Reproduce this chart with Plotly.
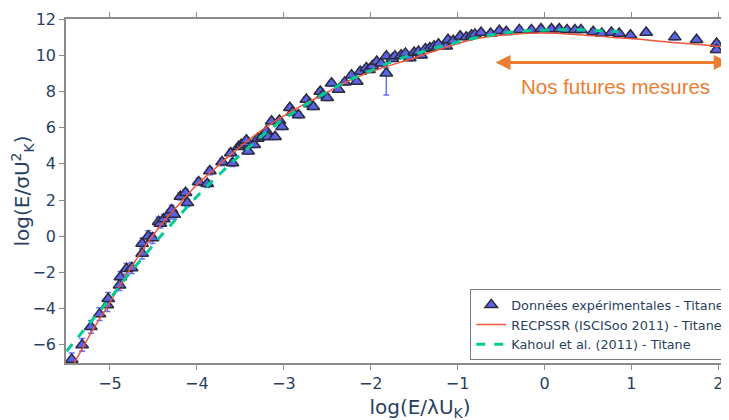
import plotly.graph_objects as go

# Experimental data (Titane)
exp_x = [-5.44, -5.32, -5.22, -5.12, -5.03, -5.02, -4.89, -4.88, -4.81, -4.75,
         -4.63, -4.63, -4.56, -4.51, -4.44, -4.42, -4.38, -4.32, -4.29, -4.26,
         -4.19, -4.13, -4.11, -3.98, -3.88, -3.85, -3.71, -3.61, -3.59, -3.52,
         -3.49, -3.45, -3.43, -3.41, -3.34, -3.30, -3.25, -3.20, -3.18, -3.14,
         -3.10, -3.05, -3.02, -2.93, -2.90, -2.83, -2.74, -2.70, -2.66, -2.58,
         -2.55, -2.50, -2.45, -2.37, -2.30, -2.22, -2.16, -2.12, -2.05, -2.02,
         -1.98, -1.93, -1.88, -1.82, -1.82, -1.75, -1.72, -1.65, -1.60, -1.55,
         -1.50, -1.45, -1.42, -1.37, -1.32, -1.27, -1.22, -1.13, -1.11, -1.05,
         -0.97, -0.90, -0.84, -0.80, -0.73, -0.62, -0.52, -0.44, -0.29, -0.15,
         -0.04, 0.08, 0.17, 0.26, 0.35, 0.42, 0.56, 0.66, 0.77, 0.86,
         0.99, 1.17, 1.50, 1.75, 1.98, 1.98]
exp_y = [-6.8, -6.0, -5.0, -4.3, -3.8, -3.45, -2.7, -2.25, -1.8, -1.75,
         -0.95, -0.4, 0.0, -0.1, 0.8, 0.7, 0.95, 1.2, 1.45, 1.2,
         2.2, 2.4, 1.85, 3.0, 2.9, 3.6, 4.1, 4.6, 4.05, 4.95,
         5.05, 5.15, 5.3, 4.7, 5.05, 5.4, 5.5, 5.8, 5.5, 6.35,
         5.5, 6.4, 6.05, 7.1, 6.85, 6.7, 7.55, 7.3, 7.15, 8.0,
         7.8, 7.65, 8.45, 8.1, 8.5, 8.9, 8.55, 9.1, 9.3, 9.2,
         9.4, 9.65, 9.55, 9.95, 9.0, 9.8, 9.95, 10.0, 10.1, 9.85,
         10.15, 10.2, 10.0, 10.35, 10.4, 10.5, 10.6, 10.5, 10.85, 10.8,
         11.05, 11.0, 11.1, 11.15, 11.25, 11.2, 11.35, 11.3, 11.4, 11.4,
         11.45, 11.45, 11.45, 11.4, 11.4, 11.4, 11.3, 11.2, 11.25, 11.2,
         11.1, 11.25, 11.0, 10.85, 10.65, 10.3]
err_plus = [0.35, 0.35, 0.35, 0.35, 0.35, 0.35, 0.3, 0.3, 0.3, 0.3,
            0.3, 0.3, 0.3, 0.3, 0.25, 0.25, 0.25, 0.25, 0.25, 0.25,
            0.2, 0.2, 0.2, 0.2, 0.2, 0.2, 0.2, 0.2, 0.2, 0.15,
            0.15, 0.15, 0.15, 0.15, 0.15, 0.15, 0.15, 0.15, 0.15, 0.15,
            0.15, 0.15, 0.15, 0.15, 0.15, 0.15, 0.15, 0.15, 0.15, 0.15,
            0.15, 0.15, 0.15, 0.15, 0.15, 0.15, 0.15, 0.15, 0.15, 0.15,
            0.15, 0.15, 0.15, 0.15, 0.3, 0.15, 0.15, 0.15, 0.15, 0.15,
            0.15, 0.15, 0.15, 0.15, 0.15, 0.15, 0.15, 0.15, 0.15, 0.15,
            0.15, 0.15, 0.15, 0.15, 0.15, 0.15, 0.15, 0.15, 0.15, 0.15,
            0.15, 0.15, 0.15, 0.15, 0.15, 0.15, 0.15, 0.15, 0.15, 0.15,
            0.15, 0.15, 0.15, 0.15, 0.15, 0.15]
err_minus = list(err_plus)
err_minus[64] = 1.2

# RECPSSR (ISCISoo 2011) - Titane
rec_x = [-5.41, -5.2, -5.0, -4.8, -4.6, -4.4, -4.2, -4.0, -3.8, -3.6,
         -3.3, -3.0, -2.8, -2.5, -2.2, -1.9, -1.5, -1.1, -0.75, -0.4,
         0.0, 0.4, 0.8, 1.15, 1.55, 1.9, 2.2, 2.45, 2.7]
rec_y = [-7.0, -5.2, -3.65, -2.05, -0.6, 0.7, 1.8, 2.85, 3.7, 4.55,
         5.7, 6.65, 7.2, 7.95, 8.7, 9.25, 9.85, 10.5, 10.95, 11.15,
         11.23, 11.13, 10.98, 10.86, 10.67, 10.54, 10.4, 10.28, 10.15]

# Kahoul et al. (2011) - Titane
kah_x = [-5.5, -5.2, -5.0, -4.8, -4.6, -4.4, -4.2, -4.0, -3.8, -3.5,
         -3.2, -2.9, -2.6, -2.3, -2.0, -1.7, -1.4, -1.1, -0.8, -0.5,
         -0.2, 0.1, 0.4, 0.65, 0.85]
kah_y = [-6.35, -4.6, -3.45, -2.2, -1.05, 0.1, 1.15, 2.2, 3.15, 4.5,
         5.75, 6.8, 7.7, 8.5, 9.15, 9.75, 10.2, 10.6, 10.95, 11.2,
         11.35, 11.4, 11.4, 11.35, 11.3]

# Annotation
arrow_x_start = -0.58
arrow_x_end = 2.12
arrow_y = 9.6
note_text = "Nos futures mesures"
note_x = 0.82
note_y = 8.25

font_color = "#2a3f5f"
orange = "#ED7D31"

fig = go.Figure()
fig.add_trace(go.Scatter(
    x=exp_x, y=exp_y, mode="markers",
    name="Données expérimentales - Titane",
    marker=dict(symbol="triangle-up", size=11, color="#5a63e6",
                line=dict(color="#2b2b3b", width=1.5)),
    error_y=dict(type="data", symmetric=False, array=err_plus, arrayminus=err_minus,
                 color="#636efa", thickness=1.5, width=3),
))
fig.add_trace(go.Scatter(
    x=rec_x, y=rec_y, mode="lines", name="RECPSSR (ISCISoo 2011) - Titane",
    line=dict(color="#EF553B", width=1.5, shape="spline"),
))
fig.add_trace(go.Scatter(
    x=kah_x, y=kah_y, mode="lines", name="Kahoul et al. (2011) - Titane",
    line=dict(color="#00CC96", width=3, dash="dash", shape="spline"),
))

fig.add_annotation(x=arrow_x_end, y=arrow_y, ax=arrow_x_start, ay=arrow_y,
                   xref="x", yref="y", axref="x", ayref="y", text="",
                   showarrow=True, arrowhead=2, startarrowhead=2, arrowside="end+start",
                   arrowsize=1, startarrowsize=1, arrowwidth=3, arrowcolor=orange)
fig.add_annotation(x=note_x, y=note_y, xref="x", yref="y", text=note_text,
                   showarrow=False,
                   font=dict(family="Liberation Sans, Arial", size=20.5, color=orange))

axis_common = dict(showgrid=False, zeroline=False, showline=True, linecolor="#8c8c8c",
                   linewidth=1.5, ticks="outside", tickcolor="#8c8c8c", ticklen=5,
                   tickwidth=1)
fig.update_xaxes(range=[-5.506, 2.641], dtick=1, mirror="ticks",
                 tickfont=dict(size=16, color=font_color),
                 title=dict(text="log(E/λU<sub>K</sub>)", font=dict(size=20, color=font_color),
                            standoff=8),
                 **axis_common)
fig.update_yaxes(range=[-7, 12], dtick=2,
                 tickfont=dict(size=16, color=font_color),
                 title=dict(text="log(E/σU<sup>2</sup><sub>K</sub>)",
                            font=dict(size=20, color=font_color), standoff=6),
                 **axis_common)

fig.update_layout(
    width=800, height=420,
    margin=dict(l=58, r=34, t=11, b=65, autoexpand=False),
    plot_bgcolor="white", paper_bgcolor="white",
    font=dict(family="DejaVu Sans, Verdana", color=font_color),
    legend=dict(x=0.571, y=0.215, xanchor="left", yanchor="top",
                bgcolor="white", bordercolor="#7f7f7f", borderwidth=1,
                font=dict(size=12.8, color=font_color), tracegroupgap=0),
    showlegend=True,
)

fig.write_html("out.html")
